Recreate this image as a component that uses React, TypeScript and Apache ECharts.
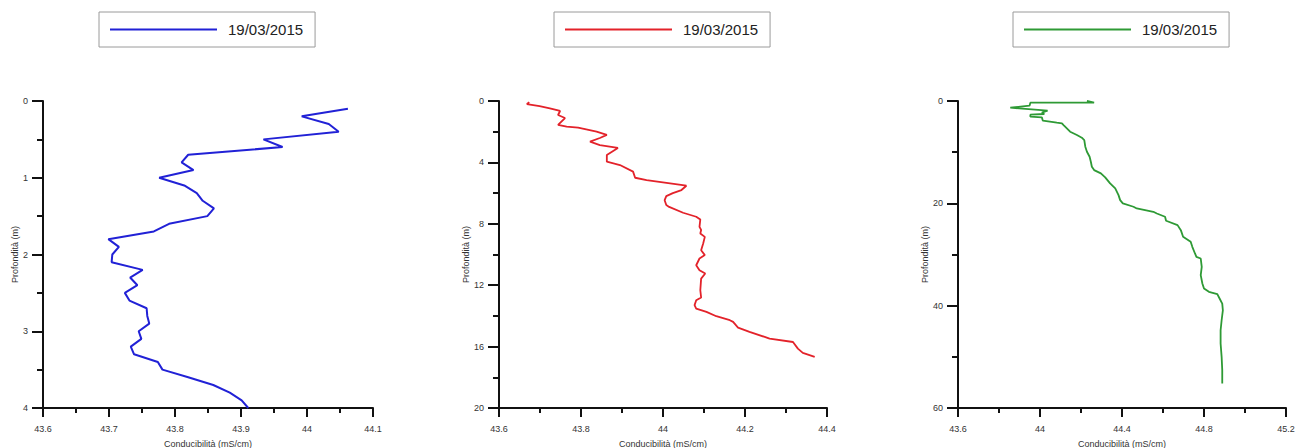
import React, { useEffect, useRef } from "react";
import * as echarts from "echarts";

const LEGEND_LABEL = "19/03/2015";
const X_NAME = "Conducibilità (mS/cm)";
const Y_NAME = "Profondità (m)";

// Panel 1 (blue)
const depth1 = [0.1, 0.2, 0.3, 0.4, 0.5, 0.6, 0.7, 0.8, 0.9, 1.0, 1.1, 1.2, 1.3, 1.4, 1.5, 1.6, 1.7, 1.8, 1.9, 2.0, 2.1, 2.2, 2.3, 2.4, 2.5, 2.6, 2.7, 2.8, 2.9, 3.0, 3.1, 3.2, 3.3, 3.4, 3.5, 3.6, 3.7, 3.8, 3.9, 4.0];
const cond1 = [44.062, 43.992, 44.033, 44.048, 43.934, 43.963, 43.82, 43.81, 43.828, 43.776, 43.814, 43.833, 43.842, 43.859, 43.849, 43.791, 43.768, 43.699, 43.715, 43.705, 43.704, 43.751, 43.732, 43.743, 43.724, 43.731, 43.757, 43.758, 43.761, 43.745, 43.749, 43.733, 43.738, 43.774, 43.781, 43.82, 43.858, 43.883, 43.901, 43.911];

// Panel 2 (red)
const depth2 = [0.08, 0.2, 0.33, 0.48, 0.65, 0.91, 1.11, 1.56, 1.67, 1.74, 2.0, 2.21, 2.41, 2.65, 2.87, 3.06, 3.52, 3.95, 4.17, 4.6, 5.0, 5.15, 5.52, 5.8, 6.0, 6.2, 6.46, 6.78, 6.9, 7.28, 7.54, 7.72, 8.2, 8.4, 8.63, 8.85, 9.28, 9.72, 10.04, 10.26, 10.7, 11.02, 11.24, 11.57, 12.33, 12.8, 12.98, 13.3, 13.52, 13.74, 14.02, 14.28, 14.39, 14.76, 15.04, 15.37, 15.48, 15.7, 16.13, 16.41, 16.67];
const cond2 = [43.674, 43.668, 43.699, 43.724, 43.749, 43.744, 43.761, 43.744, 43.765, 43.793, 43.838, 43.863, 43.846, 43.822, 43.846, 43.89, 43.863, 43.863, 43.895, 43.927, 43.932, 43.96, 44.057, 44.045, 44.024, 44.008, 44.004, 44.008, 44.015, 44.049, 44.081, 44.091, 44.089, 44.093, 44.091, 44.102, 44.098, 44.093, 44.102, 44.089, 44.081, 44.089, 44.103, 44.093, 44.091, 44.093, 44.081, 44.077, 44.081, 44.106, 44.13, 44.163, 44.171, 44.183, 44.211, 44.248, 44.26, 44.317, 44.329, 44.341, 44.37];

// Panel 3 (green)
const depth3 = [0.0, 0.33, 0.33, 0.91, 1.3, 1.9, 2.28, 2.54, 2.67, 3.07, 3.2, 3.85, 4.24, 4.37, 4.7, 6.0, 6.65, 7.17, 7.63, 8.93, 9.91, 10.89, 11.87, 12.85, 13.5, 14.15, 14.93, 16.11, 17.09, 18.39, 19.37, 20.02, 20.67, 21.0, 21.65, 21.98, 22.63, 23.41, 24.26, 25.24, 26.54, 27.52, 28.5, 29.8, 30.46, 30.78, 32.41, 34.04, 35.67, 36.65, 37.3, 37.76, 38.6, 39.6, 40.9, 42.85, 44.8, 47.4, 50.0, 52.6, 55.2];
const cond3 = [44.229, 44.264, 43.953, 43.949, 43.855, 44.037, 44.009, 44.021, 43.953, 43.953, 44.009, 44.014, 44.082, 44.107, 44.115, 44.147, 44.18, 44.204, 44.216, 44.221, 44.229, 44.242, 44.248, 44.253, 44.264, 44.297, 44.318, 44.342, 44.367, 44.383, 44.391, 44.404, 44.456, 44.472, 44.553, 44.57, 44.61, 44.615, 44.671, 44.687, 44.698, 44.735, 44.743, 44.756, 44.763, 44.784, 44.789, 44.784, 44.792, 44.8, 44.824, 44.865, 44.876, 44.889, 44.892, 44.886, 44.881, 44.881, 44.886, 44.889, 44.889];

const FONT = "Liberation Sans, Arial, sans-serif";

const panels = [
  { key: "p1", color: "#2121d6", lineWidth: 2, depth: depth1, cond: cond1, xMin: 43.6, xMax: 44.1, xInt: 0.1, yMax: 4, yInt: 1, left: 43, width: 330, legendLeft: 99, yNameGap: 22 },
  { key: "p2", color: "#e3222a", lineWidth: 1.8, depth: depth2, cond: cond2, xMin: 43.6, xMax: 44.4, xInt: 0.2, yMax: 20, yInt: 4, left: 499, width: 328, legendLeft: 554, yNameGap: 29 },
  { key: "p3", color: "#2e9a35", lineWidth: 1.8, depth: depth3, cond: cond3, xMin: 43.6, xMax: 45.2, xInt: 0.4, yMax: 60, yInt: 20, left: 958, width: 328, legendLeft: 1013, yNameGap: 29 },
];

export default function App() {
  const ref = useRef<HTMLDivElement>(null);
  useEffect(() => {
    if (!ref.current) return;
    const chart = echarts.init(ref.current, undefined, { renderer: "svg" });
    const axisLineStyle = { color: "#111", width: 2 };
    const option: any = {
      animation: false,
      backgroundColor: "#ffffff",
      textStyle: { fontFamily: FONT },
      grid: panels.map((p) => ({ left: p.left, top: 101, width: p.width, height: 307, containLabel: false, outerBoundsMode: "none" })),
      legend: panels.map((p) => ({
        data: [p.key],
        left: p.legendLeft,
        top: 12,
        icon: "rect",
        itemWidth: 107,
        itemHeight: 2,
        borderColor: "#9a9a9a",
        borderWidth: 1,
        padding: [10, 12, 10, 11],
        selectedMode: false,
        formatter: () => LEGEND_LABEL,
        textStyle: { fontSize: 15, color: "#222", fontFamily: FONT, padding: [0, 0, 0, 6] },
      })),
      xAxis: panels.map((p, i) => ({
        type: "value",
        gridIndex: i,
        min: p.xMin,
        max: p.xMax,
        interval: p.xInt,
        position: "bottom",
        name: X_NAME,
        nameLocation: "middle",
        nameGap: 31,
        nameTextStyle: { fontSize: 9, color: "#333", fontFamily: FONT },
        axisLine: { show: true, onZero: false, lineStyle: axisLineStyle },
        axisTick: { show: true, inside: false, length: 9, lineStyle: axisLineStyle },
        minorTick: { show: true, splitNumber: 2, length: 5, lineStyle: axisLineStyle },
        splitLine: { show: false },
        axisLabel: { fontSize: 9, color: "#333", margin: 16, fontFamily: FONT },
      })),
      yAxis: panels.map((p, i) => ({
        type: "value",
        gridIndex: i,
        inverse: true,
        min: 0,
        max: p.yMax,
        interval: p.yInt,
        position: "left",
        name: Y_NAME,
        nameLocation: "middle",
        nameGap: p.yNameGap,
        nameRotate: 90,
        nameTextStyle: { fontSize: 9, color: "#333", fontFamily: FONT },
        axisLine: { show: true, onZero: false, lineStyle: axisLineStyle },
        axisTick: { show: true, length: 11, lineStyle: axisLineStyle },
        minorTick: { show: true, splitNumber: 2, length: 6, lineStyle: axisLineStyle },
        splitLine: { show: false },
        axisLabel: { fontSize: 9, color: "#333", margin: 15, fontFamily: FONT },
      })),
      series: panels.map((p, i) => ({
        name: p.key,
        type: "line",
        xAxisIndex: i,
        yAxisIndex: i,
        showSymbol: false,
        symbol: "none",
        color: p.color,
        lineStyle: { color: p.color, width: p.lineWidth },
        data: p.depth.map((d, j) => [p.cond[j], d]),
      })),
    };
    chart.setOption(option);
    return () => chart.dispose();
  }, []);
  return <div ref={ref} style={{ position: "fixed", left: 0, top: 0, width: 1295, height: 448 }} />;
}
